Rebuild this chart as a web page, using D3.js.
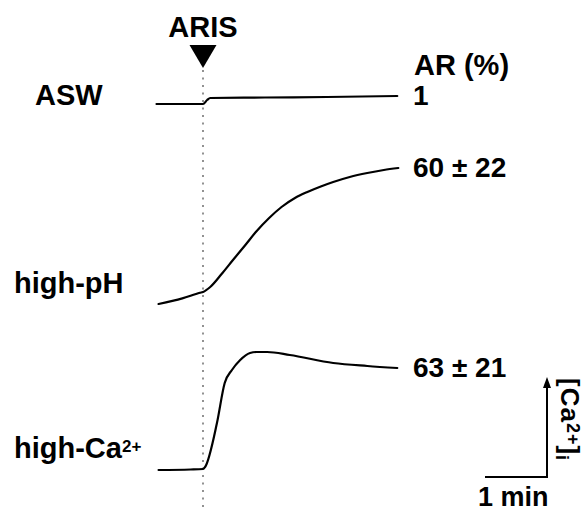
<!DOCTYPE html>
<html><head><meta charset="utf-8">
<script src="https://cdn.jsdelivr.net/npm/d3@7"></script>
<style>body{margin:0;background:#fff}text{font-family:"Liberation Sans",Arial,sans-serif;font-weight:bold;fill:#000}</style>
</head><body>
<script>
// time in seconds relative to ARIS; value = change in [Ca2+]i (scale-bar units)
const traceNames = ["ASW", "high-pH", "high-Ca"];
const arValues = ["1", "60 \u00B1 22", "63 \u00B1 21"];
const aswTime  = [-45, 0, 4, 7, 60, 120, 188];
const aswValue = [0, 0, 0.04, 0.06, 0.065, 0.07, 0.08];
const phTime   = [-43, -20, -3, 0, 7, 18, 29, 41, 52, 64, 76, 89, 101, 114, 126, 142, 159, 175, 189];
const phValue  = [0, 0.056, 0.112, 0.12, 0.17, 0.30, 0.44, 0.59, 0.73, 0.86, 0.97, 1.06, 1.12, 1.175, 1.22, 1.27, 1.31, 1.34, 1.36];
const caTime   = [-43, -12, 0, 2, 13.5, 21, 28, 36, 45.5, 52, 62, 84, 126, 159, 188];
const caValue  = [0, 0.005, 0.01, 0.03, 0.47, 0.87, 1.0, 1.10, 1.17, 1.18, 1.18, 1.15, 1.07, 1.04, 1.02];
const scaleBarTime = 60;   // 1 min
const scaleBarValue = 1;

const W = 587, H = 511;
const svg = d3.select("body").append("svg").attr("width", W).attr("height", H);

const x = d3.scaleLinear().domain([0, 60]).range([203, 265]);
const bases = [104, 304, 470];
const ys = bases.map(b => d3.scaleLinear().domain([0, 1]).range([b, b - 100]));
const series = [
  aswTime.map((t, i) => [t, aswValue[i]]),
  phTime.map((t, i) => [t, phValue[i]]),
  caTime.map((t, i) => [t, caValue[i]])
];

// ARIS dotted line
svg.append("line").attr("x1", x(0)).attr("x2", x(0)).attr("y1", 70).attr("y2", 508)
  .attr("stroke", "#777").attr("stroke-width", 1.6).attr("stroke-dasharray", "2,5.5");

// traces
series.forEach((s, i) => {
  const line = d3.line().x(d => x(d[0])).y(d => ys[i](d[1])).curve(d3.curveMonotoneX);
  svg.append("path").attr("d", line(s)).attr("fill", "none").attr("stroke", "#000")
    .attr("stroke-width", 2.2).attr("stroke-linejoin", "round").attr("stroke-linecap", "round");
});

// ARIS marker
svg.append("text").attr("x", x(0)).attr("y", 37).attr("text-anchor", "middle").attr("font-size", 29).text("ARIS");
svg.append("path").attr("d", `M${x(0)-13.5},45 L${x(0)+13.5},45 L${x(0)},68 Z`).attr("fill", "#000");

// left labels
svg.append("text").attr("x", 35).attr("y", 105).attr("font-size", 29).text("ASW");
svg.append("text").attr("x", 14).attr("y", 293).attr("font-size", 29).text("high-pH");
const ca = svg.append("text").attr("x", 14).attr("y", 458).attr("font-size", 29);
ca.append("tspan").text("high-Ca");
ca.append("tspan").attr("font-size", 17).attr("dy", -6).text("2+");

// AR values
svg.append("text").attr("x", 414).attr("y", 75).attr("font-size", 29).text("AR (%)");
const arY = [105, 177, 377];
arValues.forEach((v, i) => {
  svg.append("text").attr("x", 413).attr("y", arY[i]).attr("font-size", 28).text(v);
});

// scale bar
const sbX = 547, sbY = 477;
const ySB = d3.scaleLinear().domain([0, 1]).range([sbY, sbY - 100]);
svg.append("line").attr("x1", sbX - (x(scaleBarTime) - x(0))).attr("x2", sbX + 1).attr("y1", sbY).attr("y2", sbY)
  .attr("stroke", "#000").attr("stroke-width", 2);
svg.append("line").attr("x1", sbX).attr("x2", sbX).attr("y1", sbY).attr("y2", ySB(scaleBarValue) + 8)
  .attr("stroke", "#000").attr("stroke-width", 2);
svg.append("path").attr("d", `M${sbX},${ySB(scaleBarValue)} L${sbX-4},${ySB(scaleBarValue)+11} L${sbX+4},${ySB(scaleBarValue)+11} Z`).attr("fill", "#000");
svg.append("text").attr("x", 478).attr("y", 506).attr("font-size", 27).text("1 min");
const rl = svg.append("text").attr("transform", "translate(561,378) rotate(90)").attr("font-size", 26).attr("letter-spacing", 1);
rl.append("tspan").text("[Ca");
rl.append("tspan").attr("font-size", 18).attr("dy", -6).text("2+");
rl.append("tspan").attr("dy", 6).text("]");
rl.append("tspan").attr("font-size", 18).attr("dy", 5).text("i");
</script>
</body></html>
